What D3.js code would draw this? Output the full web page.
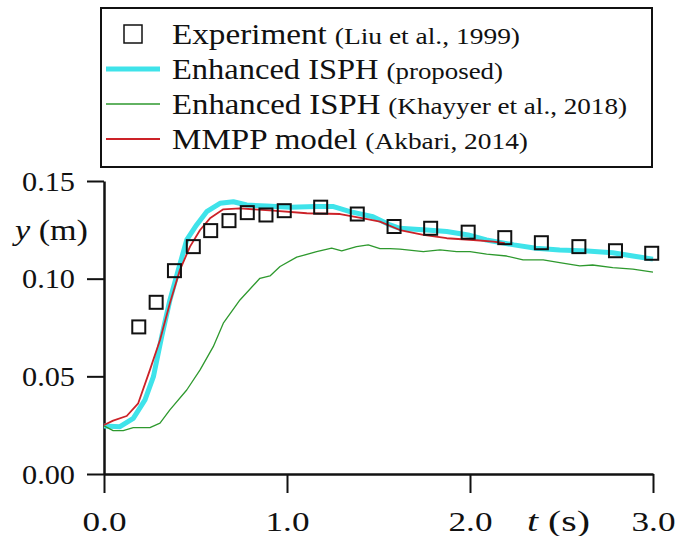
<!DOCTYPE html>
<html>
<head>
<meta charset="utf-8">
<script src="https://cdn.jsdelivr.net/npm/d3@7"></script>
<style>
  body { margin: 0; background: #fff; }
</style>
</head>
<body>
<script>
var width = 675;
var height = 536;
var serif = "'Liberation Serif'";

// experiment (Liu et al., 1999)
var expT = [0.19, 0.285, 0.385, 0.488, 0.583, 0.683, 0.783, 0.885, 0.985, 1.184, 1.384, 1.585, 1.785, 1.99, 2.19, 2.39, 2.595, 2.795, 2.993];
var expY = [0.0753, 0.0879, 0.1041, 0.1164, 0.1246, 0.1297, 0.1338, 0.1326, 0.1348, 0.1366, 0.1331, 0.1267, 0.1258, 0.1238, 0.121, 0.1184, 0.1164, 0.1143, 0.113];

// enhanced ISPH (proposed)
var cyanT = [0, 0.087, 0.16, 0.224, 0.27, 0.315, 0.36, 0.406, 0.452, 0.506, 0.561, 0.634, 0.707, 0.78, 0.889, 1.016, 1.16, 1.25, 1.344, 1.47, 1.563, 1.617, 1.763, 1.873, 1.99, 2.09, 2.24, 2.36, 2.49, 2.64, 2.78, 2.89, 3.0];
var cyanY = [0.0246, 0.0242, 0.0285, 0.0379, 0.0498, 0.0703, 0.089, 0.1045, 0.1198, 0.1275, 0.1343, 0.1386, 0.1394, 0.1377, 0.1372, 0.1366, 0.137, 0.137, 0.1343, 0.1317, 0.1275, 0.1258, 0.1249, 0.1241, 0.1224, 0.1198, 0.1173, 0.1156, 0.1147, 0.1142, 0.1133, 0.1116, 0.110];

// enhanced ISPH (Khayyer et al., 2018)
var greenT = [0, 0.05, 0.105, 0.16, 0.251, 0.306, 0.36, 0.452, 0.525, 0.597, 0.652, 0.743, 0.852, 0.907, 0.962, 1.053, 1.162, 1.244, 1.299, 1.38, 1.444, 1.508, 1.563, 1.617, 1.745, 1.836, 1.927, 2.0, 2.091, 2.2, 2.29, 2.4, 2.49, 2.6, 2.67, 2.78, 2.89, 3.0];
var greenY = [0.0246, 0.0222, 0.0222, 0.0237, 0.0237, 0.026, 0.0328, 0.043, 0.0533, 0.0652, 0.0772, 0.0891, 0.1002, 0.1014, 0.1062, 0.111, 0.1138, 0.1156, 0.1142, 0.1164, 0.1173, 0.1154, 0.1154, 0.1151, 0.1138, 0.1147, 0.1138, 0.1138, 0.1126, 0.1116, 0.1096, 0.1096, 0.1082, 0.1065, 0.107, 0.1057, 0.1049, 0.1034];

// MMPP model (Akbari, 2014)
var redT = [0, 0.05, 0.124, 0.187, 0.251, 0.306, 0.36, 0.415, 0.47, 0.525, 0.579, 0.652, 0.743, 0.925, 1.108, 1.29, 1.417, 1.508, 1.617, 1.745, 1.873, 2.018, 2.128, 2.19];
var redY = [0.0251, 0.0273, 0.0297, 0.0362, 0.0533, 0.0686, 0.0874, 0.1045, 0.1164, 0.1249, 0.1309, 0.1355, 0.136, 0.1348, 0.1335, 0.1331, 0.1309, 0.1292, 0.1249, 0.1224, 0.1207, 0.1198, 0.119, 0.1182];

var xMajor = [0, 1, 2, 3];
var xMinor = [0.2, 0.4, 0.6, 0.8, 1.2, 1.4, 1.6, 1.8, 2.2, 2.4, 2.6, 2.8];
var yMajor = [0, 0.05, 0.10, 0.15];
var yMinor = [0.01, 0.02, 0.03, 0.04, 0.06, 0.07, 0.08, 0.09, 0.11, 0.12, 0.13, 0.14];

var legendMain = ["Experiment", "Enhanced ISPH", "Enhanced ISPH", "MMPP model"];
var legendNote = ["(Liu et al., 1999)", "(proposed)", "(Khayyer et al., 2018)", "(Akbari, 2014)"];

var svg = d3.select("body")
            .append("svg")
            .attr("width", width)
            .attr("height", height);

var x = d3.scaleLinear().domain([0, 3]).range([104, 653]);
var y = d3.scaleLinear().domain([0, 0.15]).range([474, 181]);

function zip(ts, vs) { return ts.map(function(t, i) { return [t, vs[i]]; }); }

// squeeze / stretch a text to a given width
function fit(node, w) {
    d3.select(node).attr("textLength", w).attr("lengthAdjust", "spacingAndGlyphs");
    return w;
}

// ---- axes
var gx = svg.append("g").attr("transform", "translate(0,474)");
gx.call(d3.axisBottom(x).tickValues(xMinor).tickSize(10).tickSizeOuter(0).tickFormat(""));
gx.call(d3.axisBottom(x).tickValues(xMajor).tickSize(19).tickSizeOuter(0).tickFormat(d3.format(".1f")));
gx.selectAll(".domain").attr("stroke", "#111").attr("stroke-width", 2.5);
gx.selectAll(".tick line").attr("stroke", "#111").attr("stroke-width", 2);
gx.selectAll(".tick text")
    .attr("font-size", 27)
    .style("font-family", serif)
    .attr("fill", "#111")
    .attr("text-anchor", "start")
    .attr("dy", null)
    .attr("y", 57)
    .attr("x", -22)
    .each(function() { fit(this, 44); });

var gy = svg.append("g").attr("transform", "translate(104,0)");
gy.call(d3.axisLeft(y).tickValues(yMinor).tickSize(8).tickSizeOuter(0).tickFormat(""));
gy.call(d3.axisLeft(y).tickValues(yMajor).tickSize(17).tickSizeOuter(0).tickFormat(d3.format(".2f")));
gy.selectAll(".domain").attr("stroke", "#111").attr("stroke-width", 2.5);
gy.selectAll(".tick line").attr("stroke", "#111").attr("stroke-width", 2);
gy.selectAll(".tick text")
    .attr("font-size", 27)
    .style("font-family", serif)
    .attr("fill", "#111")
    .attr("text-anchor", "start")
    .attr("dy", "0.34em")
    .attr("x", -82)
    .each(function() { fit(this, 53); });

// axis titles
var yTitle = svg.append("text").attr("font-size", 29).style("font-family", serif)
    .attr("x", 15).attr("y", 240).attr("fill", "#111");
yTitle.append("tspan").attr("font-style", "italic").text("y");
yTitle.append("tspan").text(" (m)");
fit(yTitle.node(), 73);

var tTitle = svg.append("text").attr("font-size", 30).style("font-family", serif)
    .attr("x", 527).attr("y", 531).attr("fill", "#111");
tTitle.append("tspan").attr("font-style", "italic").text("t");
tTitle.append("tspan").text(" (s)");
fit(tTitle.node(), 63);

// ---- curves
var line = d3.line()
    .x(function(d) { return x(d[0]); })
    .y(function(d) { return y(d[1]); });

var series = [
    { pts: zip(cyanT, cyanY), color: "#3fe3ea", w: 5 },
    { pts: zip(greenT, greenY), color: "#2e992e", w: 1.3 },
    { pts: zip(redT, redY), color: "#cc2228", w: 1.8 }
];

svg.append("g")
    .selectAll("path")
    .data(series)
    .enter()
    .append("path")
    .attr("d", function(d) { return line(d.pts); })
    .attr("fill", "none")
    .attr("stroke", function(d) { return d.color; })
    .attr("stroke-width", function(d) { return d.w; })
    .attr("stroke-linejoin", "round");

var sq = 13;
svg.append("g")
    .selectAll("rect")
    .data(zip(expT, expY))
    .enter()
    .append("rect")
    .attr("x", function(d) { return x(d[0]) - sq / 2; })
    .attr("y", function(d) { return y(d[1]) - sq / 2; })
    .attr("width", sq)
    .attr("height", sq)
    .attr("fill", "none")
    .attr("stroke", "#111")
    .attr("stroke-width", 2);

// ---- legend
var leg = svg.append("g");
leg.append("rect")
    .attr("x", 101).attr("y", 8)
    .attr("width", 551).attr("height", 159)
    .attr("fill", "#fff")
    .attr("stroke", "#111")
    .attr("stroke-width", 2);

var rowY = [34, 69, 104, 139];
var rowEnd = [520, 503, 627, 528];

leg.append("rect")
    .attr("x", 124).attr("y", rowY[0] - 9)
    .attr("width", 18).attr("height", 18)
    .attr("fill", "none")
    .attr("stroke", "#111")
    .attr("stroke-width", 1.5);

leg.selectAll("line.key")
    .data(series)
    .enter()
    .append("line")
    .attr("class", "key")
    .attr("x1", 106).attr("x2", 160)
    .attr("y1", function(d, i) { return rowY[i + 1]; })
    .attr("y2", function(d, i) { return rowY[i + 1]; })
    .attr("stroke", function(d) { return d.color; })
    .attr("stroke-width", function(d) { return d.w; });

legendMain.forEach(function(txt, i) {
    var base = rowY[i] + 10;
    var t1 = leg.append("text").attr("font-size", 29).style("font-family", serif)
        .attr("fill", "#111").attr("x", 172).attr("y", base).text(txt);
    var t2 = leg.append("text").attr("font-size", 24).style("font-family", serif)
        .attr("fill", "#111").attr("y", base).text(legendNote[i]);
    var w1 = t1.node().getComputedTextLength();
    var w2 = t2.node().getComputedTextLength();
    var gap = 8;
    // scale the row so it ends where the reference does
    var k = (rowEnd[i] - 172 - gap) / (w1 + w2);
    fit(t1.node(), w1 * k);
    t2.attr("x", 172 + w1 * k + gap);
    fit(t2.node(), w2 * k);
});
</script>
</body>
</html>
